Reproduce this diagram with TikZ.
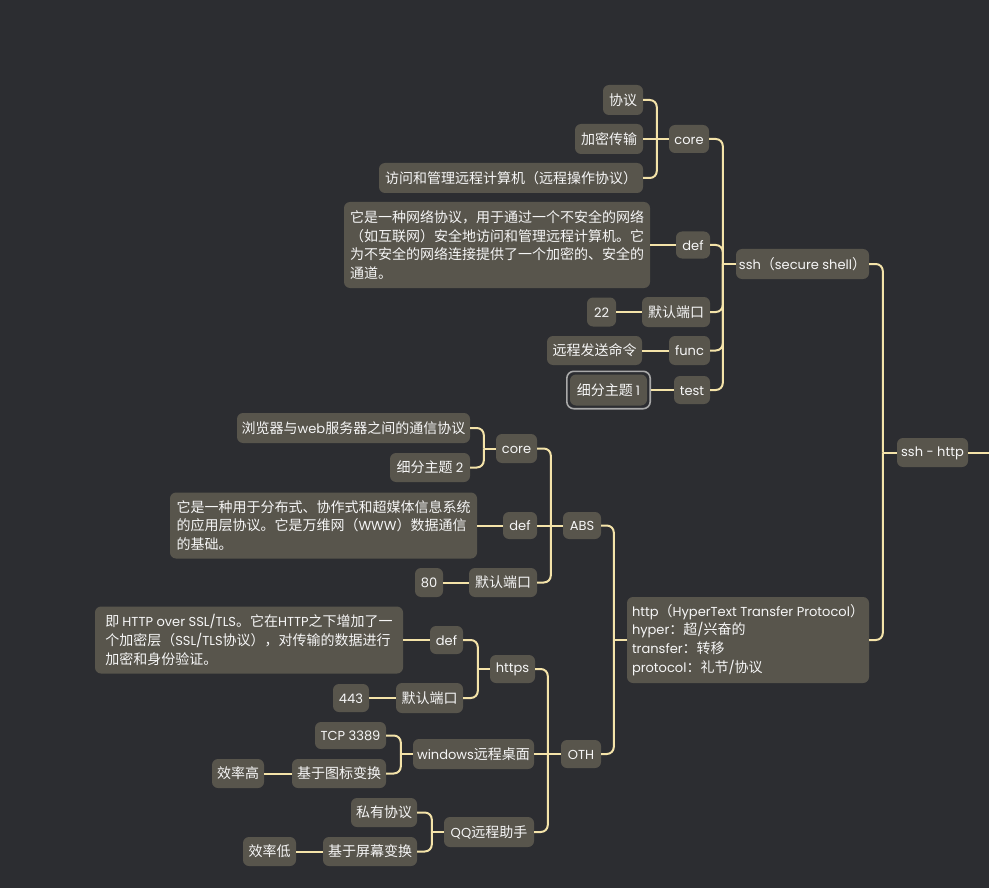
\documentclass[tikz,border=0pt]{standalone}
\usepackage{fontspec}
\setmainfont{Noto Sans CJK SC}
\newfontfamily\latf[Scale=0.93]{Poppins}
\newcommand\EN[1]{{\latf #1}}
\newcommand\nodefs{\fontsize{14}{18.7}\selectfont}
\usetikzlibrary{fit}
\definecolor{bgc}{HTML}{2C2D31}
\definecolor{nodefill}{HTML}{58554C}
\definecolor{linec}{HTML}{F4E3A9}
\definecolor{selc}{HTML}{A9A9A9}
\definecolor{txtc}{HTML}{F6F6F6}
\tikzset{
  box/.style={fill=nodefill, rounded corners=6pt, text=txtc, inner sep=0pt, font=\nodefs, align=left,
    execute at begin node={\vphantom{国}}},
  selbox/.style={draw=selc, line width=1.6pt, rounded corners=7pt, inner sep=3pt},
  conn/.style={draw=linec, line width=2pt, rounded corners=7pt},
}
\begin{document}
\begin{tikzpicture}[x=1pt,y=-1pt]
\fill[bgc] (0,0) rectangle (989,888);
\useasboundingbox (0,0) rectangle (989,888);

% ---------- ssh branch ----------
\node[box, minimum width=40, minimum height=30] (p1) at (623,100) {协议};
\node[box, minimum width=68, minimum height=30] (p2) at (609,139) {加密传输};
\node[box, minimum width=264, minimum height=30] (p3) at (511,178) {访问和管理远程计算机（远程操作协议）};
\node[box, minimum width=40, minimum height=28] (score) at (689,139) {\EN{core}};
\node[box, minimum width=306, minimum height=86] (sdtxt) at (497,245) {它是一种网络协议，用于通过一个不安全的网络\\（如互联网）安全地访问和管理远程计算机。它\\为不安全的网络连接提供了一个加密的、安全的\\通道。};
\node[box, minimum width=34, minimum height=27] (sdef) at (693,245) {\EN{def}};
\node[box, minimum width=29, minimum height=29] (s22) at (601.5,312) {\EN{22}};
\node[box, minimum width=68, minimum height=30] (sport) at (676,312) {默认端口};
\node[box, minimum width=95, minimum height=29] (sfuncT) at (594.5,350.5) {远程发送命令};
\node[box, minimum width=41, minimum height=29] (sfunc) at (689.5,350.5) {\EN{func}};
\node[box, minimum width=77, minimum height=31] (st1) at (608.5,390) {细分主题 \EN{1}};
\node[selbox, fit=(st1)] (st1sel) {};
\node[box, minimum width=36, minimum height=28] (stest) at (692,390) {\EN{test}};
\node[box, minimum width=133, minimum height=30] (ssh) at (802.5,264) {\EN{ssh}（\EN{secure shell}）};
\node[box, minimum width=71, minimum height=29] (root) at (932.5,452.5) {\EN{ssh - http}};
\coordinate (rootout) at (989,452.5);

% ---------- http / ABS ----------
\node[box, minimum width=233, minimum height=30] (hc1) at (353.5,428) {浏览器与\EN{web}服务器之间的通信协议};
\node[box, minimum width=80, minimum height=29] (hc2) at (430,467.5) {细分主题 \EN{2}};
\node[box, minimum width=41, minimum height=29] (hcore) at (516.5,448.5) {\EN{core}};
\node[box, minimum width=307, minimum height=66] (hdtxt) at (323.5,525.5) {它是一种用于分布式、协作式和超媒体信息系统\\的应用层协议。它是万维网（\EN{WWW}）数据通信\\的基础。};
\node[box, minimum width=34, minimum height=27] (hdef) at (520,525.5) {\EN{def}};
\node[box, minimum width=28, minimum height=29] (h80) at (429,582.5) {\EN{80}};
\node[box, minimum width=68, minimum height=29] (hport) at (503,582.5) {默认端口};
\node[box, minimum width=38, minimum height=27] (abs) at (582,525.5) {\EN{ABS}};
\node[box, minimum width=242, minimum height=86] (http) at (748,640) {\EN{http}（\EN{HyperText Transfer Protocol}）\\\EN{hyper}：超\EN{/}兴奋的\\\EN{transfer}：转移\\\EN{protocol}：礼节\EN{/}协议};

% ---------- OTH ----------
\node[box, minimum width=308, minimum height=67] (xdtxt) at (249,640) {即 \EN{HTTP over SSL/TLS}。它在\EN{HTTP}之下增加了一\\个加密层（\EN{SSL/TLS}协议），对传输的数据进行\\加密和身份验证。};
\node[box, minimum width=33, minimum height=28] (xdef) at (446.5,640) {\EN{def}};
\node[box, minimum width=45, minimum height=28] (https) at (512.5,669) {\EN{https}};
\node[box, minimum width=36, minimum height=28] (x443) at (351,698) {\EN{443}};
\node[box, minimum width=67, minimum height=30] (xport) at (429.5,698) {默认端口};
\node[box, minimum width=40, minimum height=28] (oth) at (581,754) {\EN{OTH}};
\node[box, minimum width=121, minimum height=30] (win) at (473.5,754) {\EN{windows}远程桌面};
\node[box, minimum width=71, minimum height=27] (tcp) at (350.5,735.5) {\EN{TCP 3389}};
\node[box, minimum width=94, minimum height=29] (icon) at (339,773.5) {基于图标变换};
\node[box, minimum width=52, minimum height=29] (effhi) at (238,773.5) {效率高};
\node[box, minimum width=90, minimum height=30] (qq) at (489,832) {\EN{QQ}远程助手};
\node[box, minimum width=66, minimum height=29] (priv) at (384,812.5) {私有协议};
\node[box, minimum width=94, minimum height=29] (screen) at (370,851.5) {基于屏幕变换};
\node[box, minimum width=53, minimum height=29] (efflo) at (269.5,851.5) {效率低};

% ---------- connectors ----------
% ssh core
\draw[conn] (p1.east) -| ([xshift=-12pt]score.west);
\draw[conn] (p3.east) -| ([xshift=-12pt]score.west);
\draw[conn] (p2.east) -- (score.west);
% ssh children
\draw[conn] (score.east) -| ([xshift=-13pt]ssh.west);
\draw[conn] (sdef.east) -| ([xshift=-13pt]ssh.west);
\draw[conn] (sport.east) -| ([xshift=-13pt]ssh.west);
\draw[conn] (sfunc.east) -| ([xshift=-13pt]ssh.west);
\draw[conn] (stest.east) -| ([xshift=-13pt]ssh.west);
\draw[conn] ([xshift=-13pt]ssh.west) -- (ssh.west);
% single links
\draw[conn] (sdtxt.east) -- (sdef.west);
\draw[conn] (s22.east) -- (sport.west);
\draw[conn] (sfuncT.east) -- (sfunc.west);
\draw[conn] (st1sel.east) -- (stest.west);
% root
\draw[conn] (ssh.east) -| ([xshift=-14pt]root.west);
\draw[conn] (http.east) -| ([xshift=-14pt]root.west);
\draw[conn] ([xshift=-14pt]root.west) -- (root.west);
\draw[conn] (root.east) -- (rootout);
% http children
\draw[conn] (abs.east) -| ([xshift=-13pt]http.west);
\draw[conn] (oth.east) -| ([xshift=-13pt]http.west);
\draw[conn] ([xshift=-13pt]http.west) -- (http.west);
% ABS children
\draw[conn] (hcore.east) -| ([xshift=-12pt]abs.west);
\draw[conn] (hport.east) -| ([xshift=-12pt]abs.west);
\draw[conn] (hdef.east) -- (abs.west);
% core (http) children
\draw[conn] (hc1.east) -| ([xshift=-12pt]hcore.west);
\draw[conn] (hc2.east) -| ([xshift=-12pt]hcore.west);
\draw[conn] ([xshift=-12pt]hcore.west) -- (hcore.west);
\draw[conn] (hdtxt.east) -- (hdef.west);
\draw[conn] (h80.east) -- (hport.west);
% OTH children
\draw[conn] (https.east) -| ([xshift=-13pt]oth.west);
\draw[conn] (qq.east) -| ([xshift=-13pt]oth.west);
\draw[conn] (win.east) -- (oth.west);
% https children
\draw[conn] (xdef.east) -| ([xshift=-12pt]https.west);
\draw[conn] (xport.east) -| ([xshift=-12pt]https.west);
\draw[conn] ([xshift=-12pt]https.west) -- (https.west);
\draw[conn] (xdtxt.east) -- (xdef.west);
\draw[conn] (x443.east) -- (xport.west);
% windows children
\draw[conn] (tcp.east) -| ([xshift=-12pt]win.west);
\draw[conn] (icon.east) -| ([xshift=-12pt]win.west);
\draw[conn] ([xshift=-12pt]win.west) -- (win.west);
\draw[conn] (effhi.east) -- (icon.west);
% QQ children
\draw[conn] (priv.east) -| ([xshift=-12pt]qq.west);
\draw[conn] (screen.east) -| ([xshift=-12pt]qq.west);
\draw[conn] ([xshift=-12pt]qq.west) -- (qq.west);
\draw[conn] (efflo.east) -- (screen.west);
\end{tikzpicture}
\end{document}
